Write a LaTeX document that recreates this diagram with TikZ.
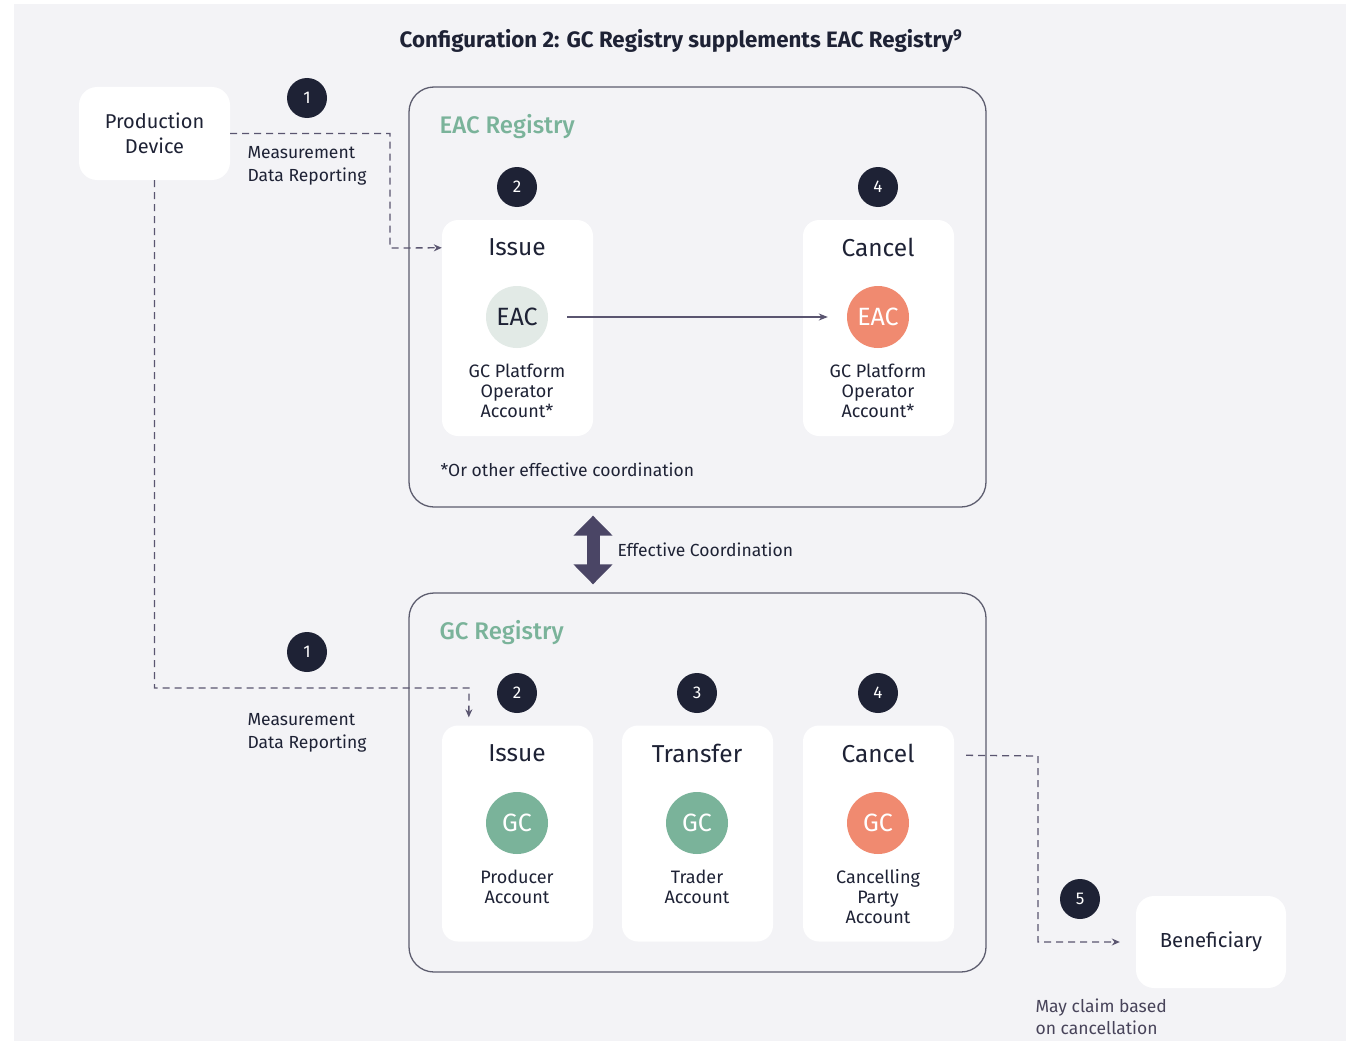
\documentclass[tikz,border=0pt]{standalone}
\usepackage{fontspec}
\setmainfont{Fira Sans}
\newfontfamily\medfont{Fira Sans Medium}
\usetikzlibrary{arrows.meta}
\definecolor{bgpanel}{HTML}{F3F3F6}
\definecolor{navy}{HTML}{1E2235}
\definecolor{txt}{HTML}{1E2235}
\definecolor{gctok}{HTML}{7AB39A}
\definecolor{eactok}{HTML}{E2EAE6}
\definecolor{salmon}{HTML}{F08A70}
\definecolor{reglabel}{HTML}{7AB39A}
\definecolor{dashcol}{HTML}{5A5570}
\definecolor{bigarr}{HTML}{4A4565}
\definecolor{regborder}{HTML}{5C5C6E}
\begin{document}
\begin{tikzpicture}[x=1pt,y=-1pt,
  every node/.style={text=txt},
  regbox/.style={draw=regborder, line width=1.3pt, rounded corners=25pt, fill=bgpanel},
  card/.style={fill=white, rounded corners=16pt, minimum width=151pt, minimum height=216pt},
  whitebox/.style={fill=white, rounded corners=18pt},
  badge/.style={circle, fill=navy, minimum size=40pt, inner sep=0pt, text=white, font=\fontsize{17}{17}\selectfont},
  token/.style={circle, minimum size=62pt, inner sep=0pt, font=\fontsize{25}{25}\selectfont},
  cardtitle/.style={font=\fontsize{24.5}{28}\selectfont},
  acct/.style={align=center, font=\fontsize{18}{20}\selectfont},
  lbl/.style={align=left, anchor=west, font=\fontsize{17.5}{22.5}\selectfont},
  reglbl/.style={anchor=west, text=reglabel, font=\medfont\fontsize{24}{26}\selectfont},
  dashconn/.style={draw=dashcol, line width=1.3pt, dash pattern=on 7pt off 5pt, -{Stealth[length=8pt,width=7pt]}},
  solidconn/.style={draw=dashcol, line width=1.2pt, -{Stealth[length=9pt,width=7pt]}},
  bigarrow/.style={draw=bigarr, line width=13pt, {Triangle[length=20pt,width=38pt]}-{Triangle[length=20pt,width=38pt]}}
]
\useasboundingbox (0,0) rectangle (1355,1041);
\fill[bgpanel] (14,4) rectangle (1346,1041);

% title
\node[font=\fontsize{22.3}{26}\selectfont\bfseries] (title) at (681,41) {Configuration 2: GC Registry supplements EAC Registry\textsuperscript{9}};

% production device
\node[whitebox, minimum width=151pt, minimum height=93pt, align=center, font=\fontsize{20}{25}\selectfont] (pd) at (154.5,133.5) {Production\\Device};

% EAC registry
\node[regbox, minimum width=577pt, minimum height=420pt] (eac) at (697.5,297) {};
\node[reglbl] (eaclbl) at (436,127) {EAC Registry};
\node[badge] (b2a) at (517,187) {2};
\node[badge] (b4a) at (878,187) {4};
\node[card] (issueA) at (517.5,328) {};
\node[card] (cancelA) at (878.5,328) {};
\node[cardtitle] (issueAt) at (517,247) {Issue};
\node[cardtitle] (cancelAt) at (878,247) {Cancel};
\node[token, fill=eactok] (eacA) at (517,317) {EAC};
\node[token, fill=salmon, text=white] (eacB) at (878,317) {EAC};
\node[acct] (accA) at (517,391) {GC Platform\\Operator\\Account*};
\node[acct] (accB) at (878,391) {GC Platform\\Operator\\Account*};
\node[lbl] (note) at (437,470) {*Or other effective coordination};
\draw[solidconn, shorten <=19pt, shorten >=19pt] (eacA) -- (eacB);

% GC registry
\node[regbox, minimum width=577pt, minimum height=379pt] (gc) at (697.5,782.5) {};
\node[reglbl] (gclbl) at (436,633) {GC Registry};
\node[badge] (b2b) at (517,693) {2};
\node[badge] (b3b) at (697,693) {3};
\node[badge] (b4b) at (878,693) {4};
\node[card] (issueB) at (517.5,833.5) {};
\node[card] (transB) at (697.5,833.5) {};
\node[card] (cancelB) at (878.5,833.5) {};
\node[cardtitle] (issueBt) at (517,753) {Issue};
\node[cardtitle] (transBt) at (697,753) {Transfer};
\node[cardtitle] (cancelBt) at (878,753) {Cancel};
\node[token, fill=gctok, text=white] (gc1) at (517,823) {GC};
\node[token, fill=gctok, text=white] (gc2) at (697,823) {GC};
\node[token, fill=salmon, text=white] (gc3) at (878,823) {GC};
\node[acct] (accC) at (517,887) {Producer\\Account};
\node[acct] (accD) at (697,887) {Trader\\Account};
\node[acct] (accE) at (878,897) {Cancelling\\Party\\Account};

% effective coordination
\draw[bigarrow, shorten <=8pt, shorten >=8pt] ([xshift=-104.5pt]eac.south) -- ([xshift=-104.5pt]gc.north);
\node[lbl] (effc) at (614,550) {Effective Coordination};

% measurement reporting top
\node[badge] (b1a) at (307,98) {1};
\node[lbl] (mdr1) at (244,166) {Measurement\\Data Reporting};
\coordinate (c1) at (390,133.5);
\coordinate (c2) at (390,248);
\draw[dashconn] (pd.east) -- (c1) -- (c2) -- ([yshift=-28pt]issueA.north west);

% measurement reporting bottom
\node[badge] (b1b) at (307,652) {1};
\node[lbl] (mdr2) at (244,733) {Measurement\\Data Reporting};
\coordinate (c3) at (154.5,688);
\coordinate (c4) at (469,688);
\draw[dashconn] (pd.south) -- (c3) -- (c4) -- ([xshift=27pt,yshift=8pt]issueB.north west);

% beneficiary
\node[whitebox, minimum width=150pt, minimum height=92pt, font=\fontsize{20.3}{24}\selectfont] (ben) at (1211,942) {Beneficiary};
\node[badge] (b5) at (1080,899) {5};
\coordinate (c5) at (1038,756);
\coordinate (c6) at (1038,942);
\draw[dashconn, shorten >=16pt] ([xshift=12pt,yshift=-30pt]cancelB.north east) -- (c5) -- (c6) -- (ben.west);
\node[lbl, text=dashcol!80!black] (claim) at (1032,1017) {May claim based\\on cancellation};
\end{tikzpicture}
\end{document}
